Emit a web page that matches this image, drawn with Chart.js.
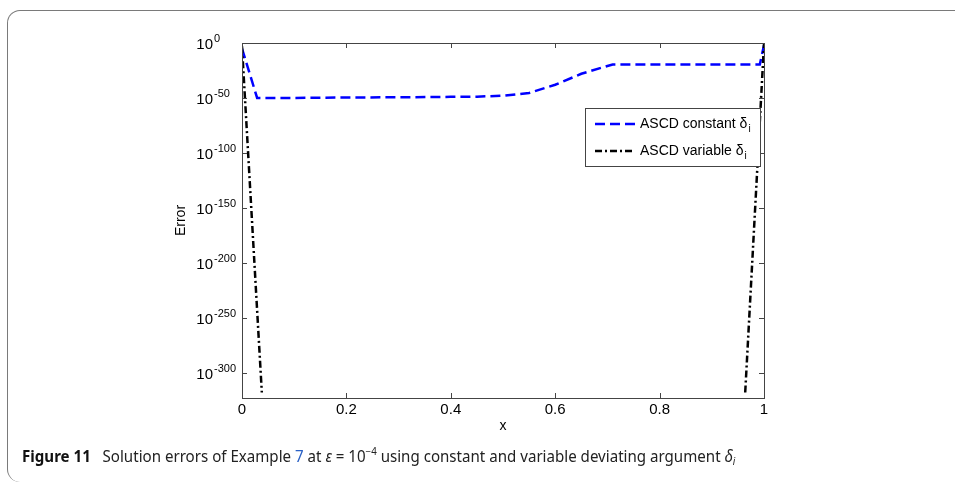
<!DOCTYPE html>
<html>
<head>
<meta charset="utf-8">
<script src="https://cdn.jsdelivr.net/npm/chart.js@4.4.1/dist/chart.umd.min.js"></script>
<style>
  html, body { margin: 0; padding: 0; background: #fff; }
  #wrap { position: relative; width: 955px; height: 496px; overflow: hidden; background: #fff; }
  #frame { position: absolute; left: 7px; top: 10px; width: 1000px; height: 472px;
           border: 1.3px solid #7a7a7a; border-bottom: none; border-radius: 13px; box-sizing: border-box; }
  #plot { position: absolute; left: 0; top: 0; }
  #caption { position: absolute; left: 22px; top: 446px; font-family: "Noto Sans", "Open Sans", sans-serif;
             font-size: 15.5px; color: #222; white-space: nowrap; transform-origin: left top; line-height: 20px; }
  #caption b { font-weight: 700; color: #111; margin-right: 8px; }
  #caption .ref { color: #2b62c6; }
  #caption sup { font-size: 10px; vertical-align: 7px; line-height: 0; }
  #caption sub { font-size: 10px; vertical-align: -3px; line-height: 0; }
</style>
</head>
<body>
<div id="wrap">
  <div id="frame"></div>
  <canvas id="plot" width="955" height="496"></canvas>
  <div id="caption"><b>Figure 11</b> Solution errors of Example <span class="ref">7</span> at <i>ε</i> = 10<sup>−4</sup> using constant and variable deviating argument <i>δ<sub>i</sub></i></div>
</div>
<script>
// Error curves, stored as log10 of the error
const constX      = [0, 0.029, 0.1, 0.2, 0.3, 0.4, 0.45, 0.5, 0.55, 0.6, 0.65, 0.71, 0.8, 0.9, 0.992, 1];
const constLogErr = [-5, -50, -50, -49.6, -49.4, -49, -48.8, -48, -45.5, -38, -28, -19.5, -19.5, -19.5, -19.5, -2];
// variable deviating argument: error underflows to zero in the interior (gap)
const varX        = [0, 0.038, 0.5, 0.964, 1];
const varLogErr   = [-3, -318, null, -318, -1];

const seriesLabels = ['ASCD constant δ', 'ASCD variable δ'];
const xTicks = [0, 0.2, 0.4, 0.6, 0.8, 1];
const xTickLabels = ['0', '0.2', '0.4', '0.6', '0.8', '1'];
const yTicks = [0, -50, -100, -150, -200, -250, -300];
const yTickExponents = ['0', '-50', '-100', '-150', '-200', '-250', '-300'];

const BLUE_DASH = [10, 5];
const BLACK_DASHDOT = [7, 3, 2, 3];

function toPoints(xs, ys) { return xs.map((x, i) => ({ x: x, y: ys[i] })); }

// axes box, inward ticks, labels and legend in MATLAB style
const axesDecor = {
  id: 'axesDecor',
  afterDraw(chart) {
    const ctx = chart.ctx;
    const a = chart.chartArea;
    const xs = chart.scales.x, ys = chart.scales.y;
    const TL = 5;
    ctx.save();
    ctx.strokeStyle = '#444';
    ctx.lineWidth = 1;
    ctx.setLineDash([]);
    ctx.strokeRect(Math.round(a.left) + 0.5, Math.round(a.top) + 0.5,
                   Math.round(a.right - a.left), Math.round(a.bottom - a.top));
    ctx.beginPath();
    xTicks.forEach(v => {
      const px = Math.round(xs.getPixelForValue(v)) + 0.5;
      ctx.moveTo(px, a.bottom); ctx.lineTo(px, a.bottom - TL);
      ctx.moveTo(px, a.top); ctx.lineTo(px, a.top + TL);
    });
    yTicks.forEach(v => {
      const py = Math.round(ys.getPixelForValue(v)) + 0.5;
      ctx.moveTo(a.left, py); ctx.lineTo(a.left + TL, py);
      ctx.moveTo(a.right, py); ctx.lineTo(a.right - TL, py);
    });
    ctx.stroke();

    // tick labels
    ctx.fillStyle = '#000';
    ctx.textBaseline = 'top';
    ctx.textAlign = 'center';
    ctx.font = '15px "Liberation Sans", Arial, sans-serif';
    xTicks.forEach((v, i) => ctx.fillText(xTickLabels[i], xs.getPixelForValue(v), a.bottom + 4));
    yTicks.forEach((v, i) => {
      const py = ys.getPixelForValue(v);
      ctx.textBaseline = 'middle';
      ctx.textAlign = 'right';
      ctx.font = '15px "Liberation Sans", Arial, sans-serif';
      ctx.fillText('10', a.left - 29, py + 2);
      ctx.textAlign = 'left';
      ctx.font = '11px "Liberation Sans", Arial, sans-serif';
      ctx.fillText(yTickExponents[i], a.left - 28, py - 4);
    });

    // axis titles
    ctx.font = '14px "Liberation Sans", Arial, sans-serif';
    ctx.textAlign = 'center';
    ctx.textBaseline = 'middle';
    ctx.fillText('x', (a.left + a.right) / 2, a.bottom + 28);
    ctx.save();
    ctx.translate(a.left - 61, (a.top + a.bottom) / 2);
    ctx.rotate(-Math.PI / 2);
    ctx.fillText('Error', 0, 0);
    ctx.restore();

    // legend
    const lx = 585, ly = 108, lw = 175, lh = 58;
    ctx.fillStyle = '#fff';
    ctx.fillRect(lx, ly, lw, lh);
    ctx.strokeStyle = '#444';
    ctx.lineWidth = 1;
    ctx.strokeRect(lx + 0.5, ly + 0.5, lw, lh);
    const rows = [
      { y: ly + 16, color: '#0000ff', dash: BLUE_DASH, width: 2.5 },
      { y: ly + 43, color: '#000000', dash: BLACK_DASHDOT, width: 2.5 }
    ];
    rows.forEach((r, i) => {
      ctx.beginPath();
      ctx.strokeStyle = r.color;
      ctx.lineWidth = r.width;
      ctx.setLineDash(r.dash);
      ctx.moveTo(lx + 10, r.y); ctx.lineTo(lx + 50, r.y);
      ctx.stroke();
      ctx.setLineDash([]);
      ctx.fillStyle = '#000';
      ctx.textAlign = 'left';
      ctx.textBaseline = 'middle';
      ctx.font = '14px "Liberation Sans", Arial, sans-serif';
      const tx = lx + 55;
      ctx.fillText(seriesLabels[i], tx, r.y);
      const w = ctx.measureText(seriesLabels[i]).width;
      ctx.font = '10px "Liberation Sans", Arial, sans-serif';
      ctx.fillText('i', tx + w + 1, r.y + 5);
    });
    ctx.restore();
  }
};

new Chart(document.getElementById('plot'), {
  type: 'line',
  data: {
    datasets: [
      {
        label: seriesLabels[0],
        data: toPoints(constX, constLogErr),
        borderColor: '#0000ff',
        borderWidth: 2.5,
        borderDash: BLUE_DASH,
        pointRadius: 0,
        tension: 0,
        order: 1
      },
      {
        label: seriesLabels[1],
        data: toPoints(varX, varLogErr),
        borderColor: '#000000',
        borderWidth: 2.5,
        borderDash: BLACK_DASHDOT,
        pointRadius: 0,
        tension: 0,
        spanGaps: false,
        order: 0
      }
    ]
  },
  options: {
    responsive: false,
    animation: false,
    devicePixelRatio: 1,
    layout: { padding: { left: 242, right: 191, top: 43, bottom: 98 } },
    plugins: { legend: { display: false }, tooltip: { enabled: false } },
    scales: {
      x: { type: 'linear', min: 0, max: 1, display: false },
      y: { type: 'linear', min: -323, max: 0, display: false }
    }
  },
  plugins: [axesDecor]
});

// fit caption to its line length
const cap = document.getElementById('caption');
const capW = cap.scrollWidth;
cap.style.transform = 'scaleX(' + (713 / capW) + ')';
</script>
</body>
</html>
